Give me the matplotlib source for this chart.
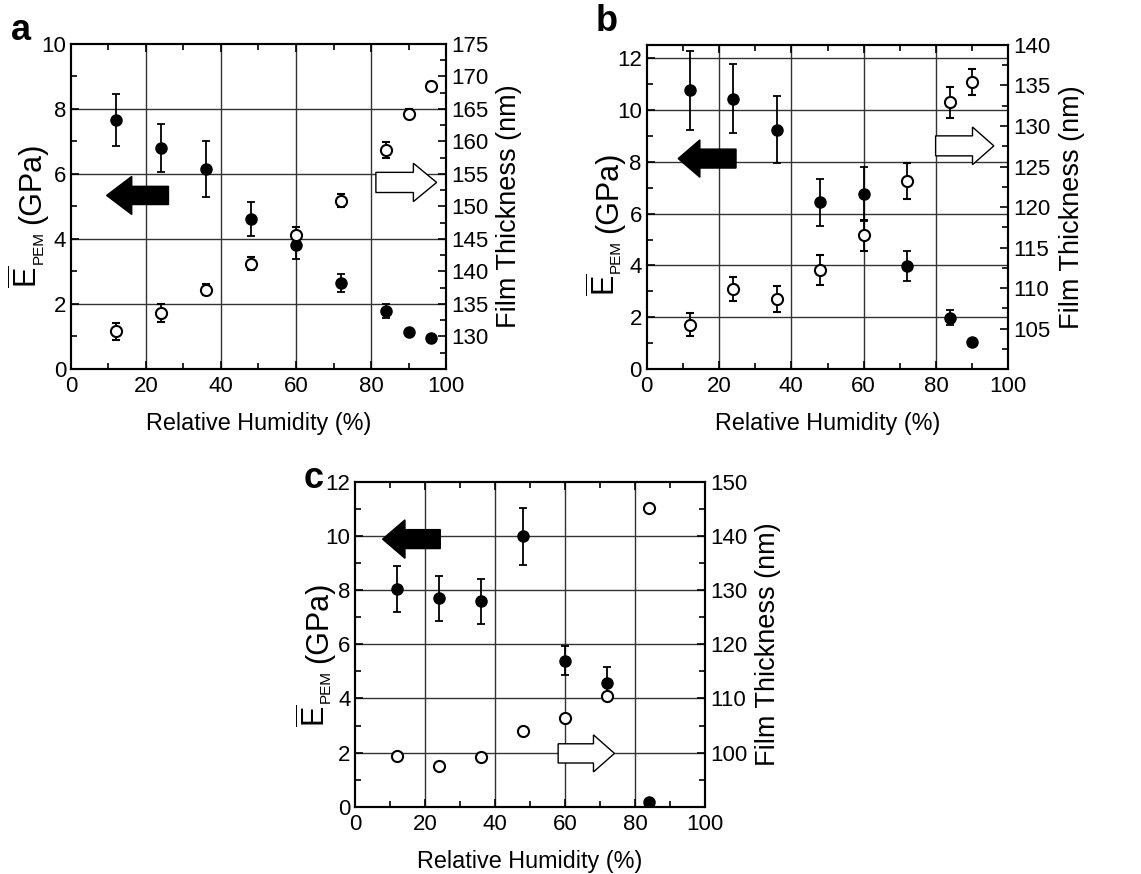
import matplotlib
matplotlib.use("Agg")
import matplotlib.pyplot as plt
from matplotlib.patches import FancyArrow
from matplotlib.ticker import MultipleLocator

plt.rcParams["font.family"] = ["Liberation Sans", "DejaVu Sans"]
plt.rcParams["mathtext.fontset"] = "custom"
plt.rcParams["mathtext.rm"] = "Liberation Sans"
plt.rcParams["mathtext.it"] = "Liberation Sans:italic"

# Panel a
rh_a = [12, 24, 36, 48, 60, 72, 84, 90, 96]
mod_a = [7.65, 6.8, 6.15, 4.62, 3.8, 2.65, 1.78, 1.15, 0.95]
mod_err_a = [0.8, 0.75, 0.85, 0.52, 0.42, 0.27, 0.22, 0.0, 0.0]
thick_a = [130.8, 133.6, 137.2, 141.2, 145.6, 150.9, 158.7, 164.3, 168.6]
thick_err_a = [1.3, 1.4, 0.8, 1.0, 1.2, 1.0, 1.2, 0.7, 0.5]

# Panel b
rh_b = [12, 24, 36, 48, 60, 72, 84, 90]
mod_b = [10.75, 10.42, 9.24, 6.43, 6.75, 3.99, 1.99, 1.05]
mod_err_b = [1.53, 1.33, 1.28, 0.9, 1.05, 0.58, 0.3, 0.0]
thick_b = [105.5, 109.9, 108.7, 112.3, 116.5, 123.2, 132.9, 135.4]
thick_err_b = [1.4, 1.5, 1.6, 1.85, 1.9, 2.2, 1.9, 1.6]

# Panel c
rh_c = [12, 24, 36, 48, 60, 72, 84]
mod_c = [8.03, 7.70, 7.60, 10.0, 5.40, 4.56, 0.16]
mod_err_c = [0.85, 0.83, 0.83, 1.05, 0.55, 0.62, 0.0]
thick_c = [99.4, 97.6, 99.1, 104.0, 106.3, 110.5, 145.2]

TICK_FS = 16
LABEL_FS = 16.8
YLABEL_FS = 19.5


def draw_arrow(ax, x0, x1, y, width, head_width, head_length, filled):
    arrow = FancyArrow(
        x0, y, x1 - x0, 0,
        width=width,
        head_width=head_width,
        head_length=head_length,
        length_includes_head=True,
        facecolor="black" if filled else "white",
        edgecolor="black",
        linewidth=1.0,
        zorder=5,
    )
    ax.add_patch(arrow)


def draw_modulus_label(ax, y0):
    # E with overline, small PEM subscript, then the unit
    e = ax.text(-0.115, y0, r"$\overline{\mathrm{E}}$",
                transform=ax.transAxes, rotation=90,
                ha="center", va="bottom", fontsize=22)
    sub = ax.annotate("PEM", xy=(1.0, 1.0), xycoords=e,
                      xytext=(0.5, 1), textcoords="offset points",
                      rotation=90, ha="right", va="bottom", fontsize=11)
    ax.annotate("(GPa)", xy=(0.5, 1.0), xycoords=(e, sub),
                xytext=(3, 5), textcoords="offset points",
                rotation=90, ha="center", va="bottom", fontsize=22)


def draw_panel(fig, rect, label, label_xy, ylab_y, rh, mod, mod_err,
               thick, thick_err, e_top, e_grid, t_lim, t_ticks, t_minor,
               arrows):
    ax = fig.add_axes(rect)
    ax.set_xlim(0, 100)
    ax.set_ylim(0, e_top)

    for x in [20, 40, 60, 80]:
        ax.axvline(x, color="0.2", linewidth=1.0, zorder=0)
    for y in e_grid:
        ax.axhline(y, color="0.2", linewidth=1.0, zorder=0)

    ax.errorbar(
        rh, mod, yerr=mod_err,
        fmt="o", color="black", markersize=8,
        elinewidth=1.3, capsize=3, capthick=1.3, zorder=3,
    )

    ax.xaxis.set_major_locator(MultipleLocator(20))
    ax.xaxis.set_minor_locator(MultipleLocator(10))
    ax.yaxis.set_major_locator(MultipleLocator(2))
    ax.yaxis.set_minor_locator(MultipleLocator(1))
    ax.tick_params(which="both", direction="in", top=True, right=False,
                   labelsize=TICK_FS, width=1.2)
    ax.tick_params(which="major", length=6)
    ax.tick_params(which="minor", length=4)
    ax.tick_params(axis="x", pad=5)

    ax.set_xlabel("Relative Humidity (%)", fontsize=LABEL_FS, labelpad=11)
    draw_modulus_label(ax, ylab_y)

    for a in arrows:
        draw_arrow(ax, *a)

    ax2 = ax.twinx()
    ax2.set_ylim(*t_lim)
    ax2.set_yticks(t_ticks)
    ax2.yaxis.set_minor_locator(MultipleLocator(t_minor))
    ax2.tick_params(which="both", direction="in", labelsize=TICK_FS, width=1.2)
    ax2.tick_params(which="major", length=6)
    ax2.tick_params(which="minor", length=4)
    ax2.errorbar(
        rh, thick, yerr=thick_err,
        fmt="o", color="black", markerfacecolor="white",
        markeredgewidth=1.5, markersize=8,
        elinewidth=1.3, capsize=3, capthick=1.3, zorder=3,
    )
    ax2.set_ylabel("Film Thickness (nm)", fontsize=YLABEL_FS, labelpad=6)

    for spine in ax2.spines.values():
        spine.set_linewidth(1.5)
    for spine in ax.spines.values():
        spine.set_linewidth(1.5)

    fig.text(label_xy[0], label_xy[1], label, fontsize=26,
             fontweight="bold", ha="left", va="top")


fig = plt.figure(figsize=(11.41, 8.74), dpi=100)

draw_panel(
    fig, [0.0622, 0.5778, 0.3287, 0.3719], "a", (0.010, 0.985), 0.25,
    rh_a, mod_a, mod_err_a, thick_a, thick_err_a,
    10, [2, 4, 6, 8], (125, 175), list(range(130, 176, 5)), 2.5,
    [(26, 9.5, 5.34, 0.56, 1.17, 6.7, True),
     (81.3, 97.5, 5.74, 0.62, 1.18, 6.2, False)],
)

draw_panel(
    fig, [0.5668, 0.5775, 0.3169, 0.3711], "b", (0.522, 0.995), 0.225,
    rh_b, mod_b, mod_err_b, thick_b, thick_err_b,
    12.5, [2, 4, 6, 8, 10, 12], (100, 140), list(range(105, 141, 5)), 2.5,
    [(24.7, 8.7, 8.12, 0.73, 1.44, 6.0, True),
     (79.9, 96.0, 8.61, 0.77, 1.45, 5.9, False)],
)

draw_panel(
    fig, [0.3114, 0.0770, 0.3065, 0.3715], "c", (0.266, 0.472), 0.245,
    rh_c, mod_c, mod_err_c, thick_c, None,
    12, [2, 4, 6, 8, 10], (90, 150), list(range(100, 151, 10)), 5,
    [(24.3, 7.8, 9.89, 0.70, 1.42, 6.4, True),
     (58.0, 74.1, 1.97, 0.71, 1.37, 6.0, False)],
)

fig.savefig("out.png", dpi=100)
